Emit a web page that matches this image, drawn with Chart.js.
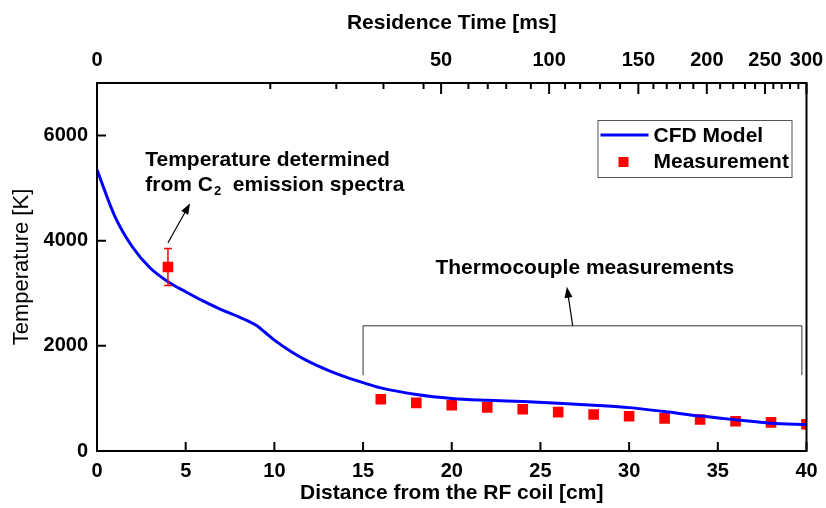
<!DOCTYPE html>
<html>
<head>
<meta charset="utf-8">
<script src="https://cdn.jsdelivr.net/npm/chart.js@4.4.1/dist/chart.umd.min.js"></script>
<style>
  body { margin: 0; background: #fff; }
  #wrap { width: 826px; height: 508px; }
</style>
</head>
<body>
<div id="wrap"><canvas id="myChart" width="826" height="508"></canvas></div>
<script>
// CFD model curve
const cfdDistance = [0, 1, 2, 3, 4, 5, 6, 7, 8, 8.5, 9, 9.5, 10, 11, 12, 13, 14, 15, 16, 18, 20, 22, 24, 26, 28, 30, 32, 34, 36, 38, 40];
const cfdTemp = [5350, 4470, 3880, 3480, 3220, 3030, 2850, 2690, 2550, 2475, 2385, 2250, 2110, 1880, 1690, 1540, 1410, 1300, 1200, 1075, 1000, 965, 940, 910, 870, 825, 750, 665, 595, 530, 503];

// measurements (first one is the C2 spectra point with error bar)
const measDistance = [4, 16, 18, 20, 22, 24, 26, 28, 30, 32, 34, 36, 38, 40];
const measTemp = [3500, 985, 915, 870, 830, 795, 740, 695, 660, 620, 600, 565, 545, 510];
const measErr = [350, 0, 0, 0, 0, 0, 0, 0, 0, 0, 0, 0, 0, 0];

// axis ticks
const distTicks = [0, 5, 10, 15, 20, 25, 30, 35, 40];
const tempTicks = [0, 2000, 4000, 6000];

// residence time (top axis) and where each time sits along the distance axis
const resTime = [0, 10, 20, 30, 40, 50, 60, 70, 80, 90, 100, 110, 120, 130, 140, 150, 160, 170, 180, 190, 200, 210, 220, 230, 240, 250, 260, 270, 280, 290, 300];
const resTimeDistance = [0, 9.77, 13.49, 16.15, 18.41, 19.40, 20.94, 22.03, 23.07, 24.46, 25.49, 26.39, 27.24, 28.36, 29.49, 30.52, 31.37, 32.12, 32.87, 33.62, 34.38, 35.13, 35.87, 36.53, 37.10, 37.66, 38.13, 38.60, 39.07, 39.54, 40];
const resTimeLabels = [0, 50, 100, 150, 200, 250, 300];

const FONT = "'Liberation Sans', Arial, sans-serif";

const frameTicks = {
    id: 'frameTicks',
    afterDraw(chart) {
        const ctx = chart.ctx;
        const a = chart.chartArea;
        const sx = chart.scales.x, sy = chart.scales.y, st = chart.scales.x2;
        ctx.save();
        ctx.strokeStyle = '#000';
        ctx.lineWidth = 2;
        ctx.beginPath();
        distTicks.forEach(v => {
            const p = sx.getPixelForValue(v);
            ctx.moveTo(p, a.bottom); ctx.lineTo(p, a.bottom - 9);
        });
        tempTicks.forEach(v => {
            const p = sy.getPixelForValue(v);
            ctx.moveTo(a.left, p); ctx.lineTo(a.left + 9, p);
        });
        resTime.forEach((t, i) => {
            const p = st.getPixelForValue(resTimeDistance[i]);
            const len = resTimeLabels.includes(t) ? 11 : 6;
            ctx.moveTo(p, a.top); ctx.lineTo(p, a.top + len);
        });
        ctx.stroke();
        ctx.strokeRect(a.left, a.top, a.right - a.left, a.bottom - a.top);
        ctx.restore();
    }
};

const errorBars = {
    id: 'errorBars',
    afterDatasetsDraw(chart) {
        const ctx = chart.ctx;
        const sx = chart.scales.x, sy = chart.scales.y;
        ctx.save();
        ctx.strokeStyle = '#ff0000';
        ctx.lineWidth = 1.5;
        measDistance.forEach((d, i) => {
            if (!measErr[i]) return;
            const x = sx.getPixelForValue(d);
            const y1 = sy.getPixelForValue(measTemp[i] - measErr[i]);
            const y2 = sy.getPixelForValue(measTemp[i] + measErr[i]);
            ctx.beginPath();
            ctx.moveTo(x, y1); ctx.lineTo(x, y2);
            ctx.moveTo(x - 4, y1); ctx.lineTo(x + 4, y1);
            ctx.moveTo(x - 4, y2); ctx.lineTo(x + 4, y2);
            ctx.stroke();
        });
        ctx.restore();
    }
};

function arrow(ctx, x1, y1, x2, y2) {
    const ang = Math.atan2(y2 - y1, x2 - x1);
    ctx.beginPath();
    ctx.moveTo(x1, y1);
    ctx.lineTo(x2 - 8 * Math.cos(ang), y2 - 8 * Math.sin(ang));
    ctx.stroke();
    ctx.beginPath();
    ctx.moveTo(x2, y2);
    ctx.lineTo(x2 - 11 * Math.cos(ang) + 4 * Math.sin(ang), y2 - 11 * Math.sin(ang) - 4 * Math.cos(ang));
    ctx.lineTo(x2 - 11 * Math.cos(ang) - 4 * Math.sin(ang), y2 - 11 * Math.sin(ang) + 4 * Math.cos(ang));
    ctx.closePath();
    ctx.fill();
}

const notes = {
    id: 'notes',
    afterDraw(chart) {
        const ctx = chart.ctx;
        const sx = chart.scales.x, sy = chart.scales.y;
        const X = v => sx.getPixelForValue(v), Y = v => sy.getPixelForValue(v);
        ctx.save();
        ctx.fillStyle = '#000';
        ctx.strokeStyle = '#000';
        ctx.textBaseline = 'middle';
        ctx.font = 'bold 21px ' + FONT;
        ctx.textAlign = 'left';
        // C2 note
        let x = X(2.72);
        ctx.fillText('Temperature determined', x, Y(5537));
        let y = Y(5061);
        ctx.fillText('from C', x, y);
        x += ctx.measureText('from C').width;
        ctx.font = 'bold 13px ' + FONT;
        ctx.fillText('2', x + 1, y + 6);
        x += ctx.measureText('2').width + 1;
        ctx.font = 'bold 21px ' + FONT;
        ctx.fillText('  emission spectra', x, y);
        ctx.lineWidth = 1.2;
        arrow(ctx, X(4.0), Y(3962), X(5.25), Y(4712));
        // thermocouple note
        ctx.textAlign = 'center';
        ctx.fillText('Thermocouple measurements', X(27.5), Y(3480));
        arrow(ctx, X(26.82), Y(2381), X(26.49), Y(3124));
        ctx.strokeStyle = '#333';
        ctx.lineWidth = 1;
        ctx.beginPath();
        ctx.moveTo(X(15), Y(1442));
        ctx.lineTo(X(15), Y(2381));
        ctx.lineTo(X(39.74), Y(2381));
        ctx.lineTo(X(39.74), Y(1442));
        ctx.stroke();
        ctx.restore();
    }
};

const boxLegend = {
    id: 'boxLegend',
    afterDraw(chart) {
        const ctx = chart.ctx;
        const a = chart.chartArea;
        const ds = chart.data.datasets;
        const left = a.right - 209, top = a.top + 37, w = 194, h = 57;
        ctx.save();
        ctx.fillStyle = '#fff';
        ctx.fillRect(left, top, w, h);
        ctx.strokeStyle = '#555';
        ctx.lineWidth = 1;
        ctx.strokeRect(left + 0.5, top + 0.5, w, h);
        ctx.strokeStyle = ds[0].borderColor;
        ctx.lineWidth = 3;
        ctx.beginPath();
        ctx.moveTo(left + 3, top + 15); ctx.lineTo(left + 51, top + 15);
        ctx.stroke();
        ctx.fillStyle = ds[1].backgroundColor;
        ctx.fillRect(left + 21, top + 37, 10, 10);
        ctx.fillStyle = '#000';
        ctx.font = 'bold 21px ' + FONT;
        ctx.textBaseline = 'middle';
        ctx.fillText(ds[0].label, left + 56, top + 16);
        ctx.fillText(ds[1].label, left + 56, top + 42);
        ctx.restore();
    }
};

const noPad = s => { s.paddingLeft = 0; s.paddingRight = 0; };

const myc = document.getElementById('myChart').getContext('2d');
const myChart = new Chart(myc, {
    type: 'line',
    data: {
        datasets: [{
            label: 'CFD Model',
            data: cfdDistance.map((d, i) => ({x: d, y: cfdTemp[i]})),
            borderColor: '#0000ff',
            borderWidth: 3,
            pointRadius: 0,
            cubicInterpolationMode: 'monotone',
            fill: false
        }, {
            label: 'Measurement',
            data: measDistance.map((d, i) => ({x: d, y: measTemp[i]})),
            showLine: false,
            pointStyle: 'rect',
            pointRadius: 7.5,
            pointBackgroundColor: '#ff0000',
            pointBorderWidth: 0,
            backgroundColor: '#ff0000',
            borderColor: '#ff0000'
        }]
    },
    options: {
        responsive: false,
        animation: false,
        layout: {padding: {left: 0, right: 19.5, top: 0, bottom: 0}},
        plugins: {legend: {display: false}, tooltip: {enabled: false}},
        scales: {
            x: {
                type: 'linear', position: 'bottom', min: 0, max: 40,
                afterBuildTicks: s => { s.ticks = distTicks.map(v => ({value: v})); },
                afterFit: s => { s.height = 57; noPad(s); },
                grid: {display: false, drawTicks: false},
                border: {display: false},
                ticks: {color: '#000', padding: 8, maxRotation: 0, autoSkip: false, font: {family: FONT, size: 20, weight: 'bold'}},
                title: {display: true, text: 'Distance from the RF coil [cm]', color: '#000', padding: {top: 0, bottom: 2}, font: {family: FONT, size: 21, weight: 'bold'}}
            },
            x2: {
                type: 'linear', position: 'top', min: 0, max: 40,
                afterBuildTicks: s => { s.ticks = resTimeDistance.map(v => ({value: v})); },
                afterFit: s => { s.height = 83; noPad(s); },
                grid: {display: false, drawTicks: false},
                border: {display: false},
                ticks: {
                    color: '#000', padding: 11, maxRotation: 0, autoSkip: false,
                    font: {family: FONT, size: 20, weight: 'bold'},
                    callback: (v, i) => resTimeLabels.includes(resTime[i]) ? String(resTime[i]) : ''
                },
                title: {display: true, text: 'Residence Time [ms]', color: '#000', padding: {top: 11, bottom: 0}, font: {family: FONT, size: 21, weight: 'bold'}}
            },
            y: {
                type: 'linear', position: 'left', min: 0, max: 7000,
                afterBuildTicks: s => { s.ticks = tempTicks.map(v => ({value: v})); },
                afterFit: s => { s.width = 97; },
                grid: {display: false, drawTicks: false},
                border: {display: false},
                ticks: {color: '#000', padding: 9, font: {family: FONT, size: 20, weight: 'bold'}, callback: v => String(v)},
                title: {display: true, text: 'Temperature [K]', color: '#000', padding: {top: 9, bottom: 0}, font: {family: FONT, size: 22}}
            }
        }
    },
    plugins: [errorBars, frameTicks, notes, boxLegend]
});
</script>
</body>
</html>
